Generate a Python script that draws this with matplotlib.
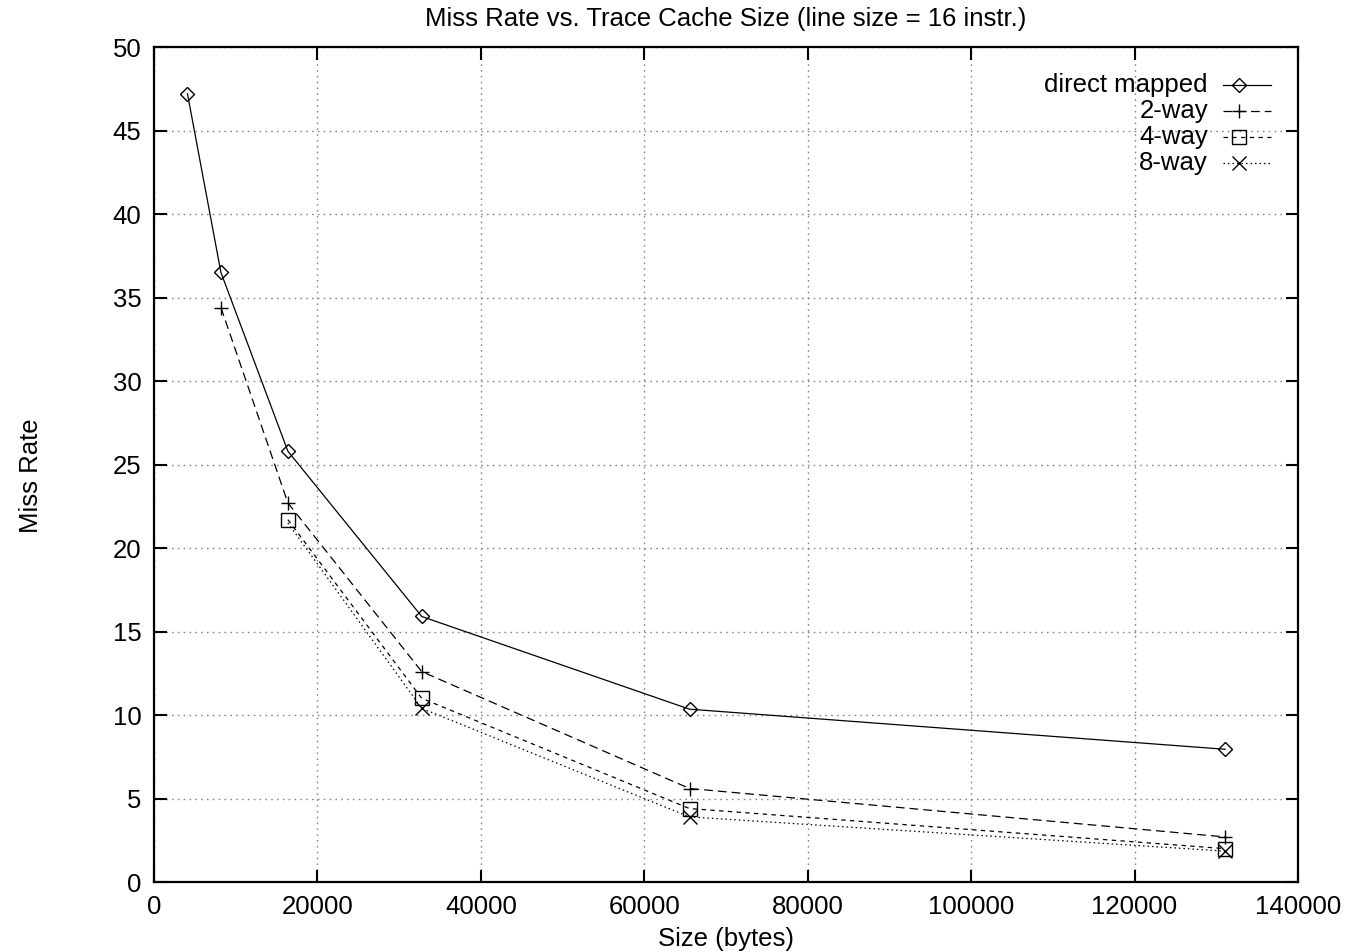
import matplotlib
matplotlib.use("Agg")
import matplotlib.pyplot as plt
from matplotlib.lines import Line2D
from matplotlib.ticker import MultipleLocator, FormatStrFormatter

plt.rcParams['font.family'] = ['Liberation Sans', 'DejaVu Sans']
plt.rcParams['font.size'] = 18.5

# trace cache sizes in bytes
sizes = [4096, 8192, 16384, 32768, 65536, 131072]

# miss rates per associativity
direct_mapped = [47.2, 36.5, 25.8, 15.9, 10.35, 7.95]
two_way = [34.4, 22.7, 12.6, 5.6, 2.7]
four_way = [21.7, 11.0, 4.4, 2.0]
eight_way = [21.5, 10.4, 3.9, 1.85]

series = [
    ("direct mapped", sizes, direct_mapped, "-", "D", None),
    ("2-way", sizes[1:], two_way, (0, (7, 4)), "+", None),
    ("4-way", sizes[2:], four_way, (0, (3.5, 3.5)), "s", None),
    ("8-way", sizes[2:], eight_way, (0, (1.2, 2.4)), "x", [1, 2, 3]),
]

fig = plt.figure(figsize=(13.58, 9.52), dpi=100)
ax = fig.add_axes([0.1134, 0.0735, 0.8424, 0.8771])

for label, xs, ys, ls, mk, every in series:
    ms = 7 if mk == "D" else 10
    ax.plot(xs, ys, color="black", linestyle=ls, linewidth=0.9,
            marker=mk, markersize=ms, markerfacecolor="none",
            markeredgecolor="black", markeredgewidth=1.0, markevery=every)

ax.set_xlim(0, 140000)
ax.set_ylim(0, 50)
ax.xaxis.set_major_locator(MultipleLocator(20000))
ax.yaxis.set_major_locator(MultipleLocator(5))
ax.xaxis.set_major_formatter(FormatStrFormatter("%d"))
ax.yaxis.set_major_formatter(FormatStrFormatter("%d"))

ax.grid(True, color="#888888", linestyle=(0, (1.2, 3.0)), linewidth=1.0)
ax.tick_params(direction="in", length=9, width=1.5, top=True, right=True,
               labelsize=18.5, pad=9)
for sp in ax.spines.values():
    sp.set_linewidth(1.6)

ax.set_title("Miss Rate vs. Trace Cache Size (line size = 16 instr.)",
             fontsize=18.5, pad=15)
ax.set_xlabel("Size (bytes)", fontsize=18.5, labelpad=6)
fig.text(0.023, 0.5, "Miss Rate", rotation=90, ha="center", va="center",
         fontsize=18.5)

# key in the upper right, text right-aligned with line samples after it
W, H = 1358.0, 952.0
row_y = [85, 111, 137, 163]
for (label, xs, ys, ls, mk, every), py in zip(series, row_y):
    fy = 1 - py / H
    fig.text(1208 / W, fy, label, ha="right", va="center", fontsize=18.5)
    ms = 7 if mk == "D" else 10
    fig.add_artist(Line2D([1223 / W, 1271 / W], [fy, fy], color="black",
                          linestyle=ls, linewidth=0.9))
    fig.add_artist(Line2D([1239 / W], [fy], color="black", marker=mk,
                          markersize=ms, markerfacecolor="none",
                          markeredgecolor="black", markeredgewidth=1.0))

fig.savefig("out.png", dpi=100)
